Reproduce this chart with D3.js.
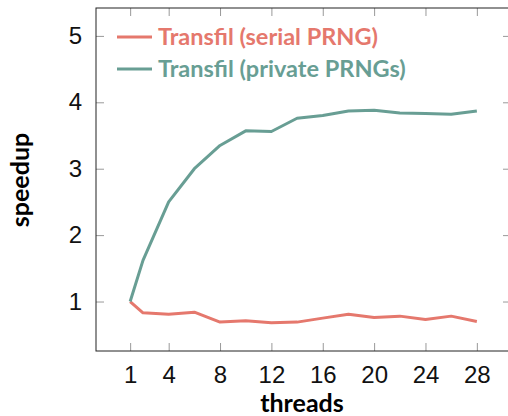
<!DOCTYPE html>
<html lang="en">
<head>
<meta charset="UTF-8">
<title>Transfil speedup</title>
<style>
    body { margin: 0; background: #fff; }
    svg { display: block; font-family: Lato, "Open Sans", sans-serif; }
</style>
</head>
<body>
<svg id="chart"></svg>
<script src="https://d3js.org/d3.v7.min.js"></script>
<script>
    // thread counts and measured speedups
    const threads = [1, 2, 4, 6, 8, 10, 12, 14, 16, 18, 20, 22, 24, 26, 28];
    const serialPRNG = [1.0, 0.83, 0.81, 0.84, 0.69, 0.71, 0.68, 0.69, 0.75, 0.81, 0.76, 0.78, 0.73, 0.78, 0.70];
    const privatePRNGs = [1.0, 1.62, 2.5, 3.0, 3.35, 3.57, 3.56, 3.76, 3.8, 3.87, 3.88, 3.84, 3.83, 3.82, 3.87];
    const xTicks = [1, 4, 8, 12, 16, 20, 24, 28];
    const yTicks = [1, 2, 3, 4, 5];
    const seriesNames = ['Transfil (serial PRNG)', 'Transfil (private PRNGs)'];
    const seriesColors = ['#e5786d', '#689e94'];

    const width = 508, height = 416;
    const plotLeft = 96, plotRight = 511, plotTop = 8, plotBottom = 351;

    const svg = d3.select('#chart').attr('width', width).attr('height', height);

    const x = d3.scaleLinear().domain([-1.66, 30.66]).range([plotLeft, plotRight]);
    const y = d3.scaleLinear().domain([0.255, 5.42]).range([plotBottom, plotTop]);

    // axes with inward ticks
    const styleAxis = g => {
        g.select('.domain').remove();
        g.selectAll('.tick line').attr('stroke', '#999');
        g.selectAll('.tick text').attr('fill', '#111').style('font-size', '24px');
    };

    svg.append('g').attr('transform', `translate(0,${plotBottom})`)
        .call(d3.axisBottom(x).tickValues(xTicks).tickSize(-8).tickPadding(15))
        .call(styleAxis);
    svg.append('g').attr('transform', `translate(0,${plotTop})`)
        .call(d3.axisTop(x).tickValues(xTicks).tickSize(-8).tickFormat(''))
        .call(styleAxis);
    svg.append('g').attr('transform', `translate(${plotLeft},0)`)
        .call(d3.axisLeft(y).tickValues(yTicks).tickSize(-8).tickPadding(14).tickFormat(d3.format('d')))
        .call(styleAxis);
    svg.append('g').attr('transform', `translate(${plotRight},0)`)
        .call(d3.axisRight(y).tickValues(yTicks).tickSize(-8).tickFormat(''))
        .call(styleAxis);

    svg.append('rect')
        .attr('x', plotLeft).attr('y', plotTop)
        .attr('width', plotRight - plotLeft).attr('height', plotBottom - plotTop)
        .attr('fill', 'none').attr('stroke', '#222').attr('stroke-width', 1);

    const line = d3.line().x((d, i) => x(threads[i])).y(d => y(d));

    [serialPRNG, privatePRNGs].forEach((vals, k) => {
        svg.append('path')
            .attr('d', line(vals))
            .attr('fill', 'none')
            .attr('stroke', seriesColors[k])
            .attr('stroke-width', 3)
            .attr('stroke-linejoin', 'round');
    });

    // legend
    const legend = svg.append('g').attr('transform', 'translate(117,37)');
    seriesNames.forEach((name, k) => {
        const row = legend.append('g').attr('transform', `translate(0,${k * 32})`);
        row.append('line')
            .attr('x1', 0).attr('x2', 35)
            .attr('stroke', seriesColors[k]).attr('stroke-width', 3);
        row.append('text')
            .attr('x', 41).attr('dy', '0.36em')
            .attr('fill', seriesColors[k])
            .style('font-size', '23.5px').style('font-weight', 'bold')
            .text(name);
    });

    // axis titles
    svg.append('text')
        .attr('x', 302).attr('y', 412)
        .attr('text-anchor', 'middle')
        .style('font-size', '25px').style('font-weight', 'bold')
        .text('threads');
    svg.append('text')
        .attr('transform', 'translate(29,180) rotate(-90)')
        .attr('text-anchor', 'middle')
        .style('font-size', '25px').style('font-weight', 'bold')
        .text('speedup');
</script>
</body>
</html>
